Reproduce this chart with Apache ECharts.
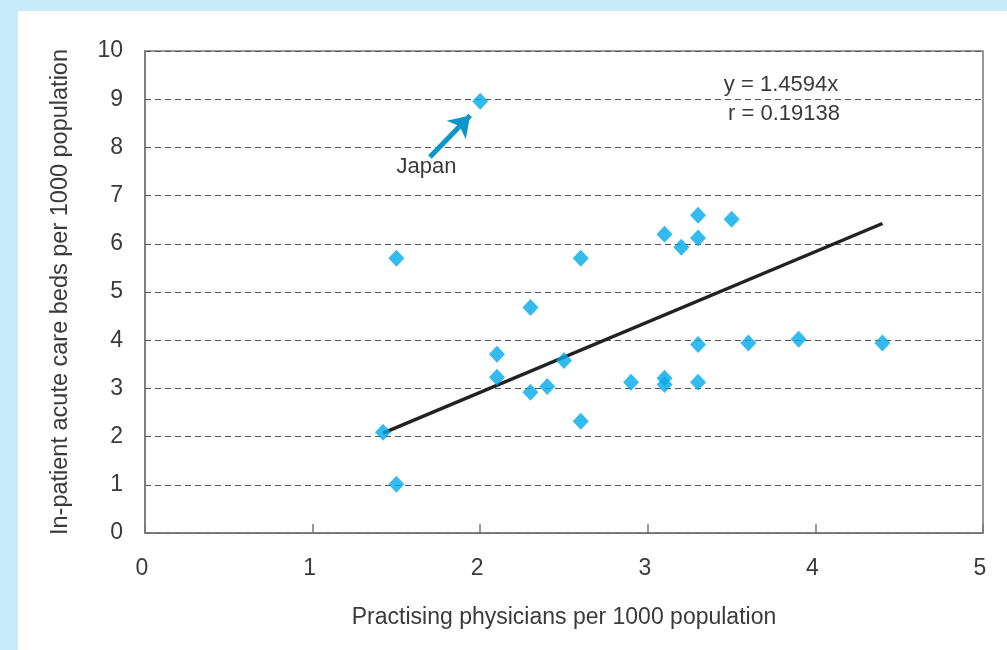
<!DOCTYPE html>
<html><head><meta charset="utf-8">
<script src="https://cdn.jsdelivr.net/npm/echarts@6/dist/echarts.min.js"></script>
<style>html,body{margin:0;padding:0;background:#c9eaf8;}#c{width:1007px;height:650px;}</style>
</head><body><div id="c"></div>
<script>
const physicians = [1.42,1.5,1.5,2.0,2.1,2.1,2.3,2.3,2.4,2.5,2.6,2.6,2.9,3.1,3.1,3.1,3.2,3.3,3.3,3.3,3.3,3.5,3.6,3.9,4.4];
const beds =       [2.09,1.01,5.7,8.96,3.71,3.23,4.68,2.92,3.04,3.58,5.7,2.32,3.13,6.2,3.21,3.08,5.93,6.59,6.12,3.91,3.13,6.51,3.94,4.02,3.94];
const slope = 1.4594;
const trendX = [1.42, 4.4];
const xTicks = [0,1,2,3,4,5];
const yTicks = [0,1,2,3,4,5,6,7,8,9,10];
const eqText = 'y = 1.4594x';
const rText = 'r = 0.19138';
const japan = {label:'Japan', from:[1.7,7.8], to:[1.94,8.66], labelAt:[1.68,7.6]};

const FONT = '"Liberation Sans", Arial, sans-serif';
const TXT = '#3a3a3a';
const chart = echarts.init(document.getElementById('c'));
chart.setOption({
  backgroundColor: 'transparent',
  animation: false,
  grid: {left:145, right:24, top:51, bottom:117, show:true, borderColor:'#777', borderWidth:1.5, backgroundColor:'transparent'},
  xAxis: {
    type:'value', min:0, max:5, interval:1,
    name:'Practising physicians per 1000 population', nameLocation:'middle', nameGap:73,
    nameTextStyle:{fontFamily:FONT, fontSize:23, color:TXT},
    axisLine:{lineStyle:{color:'#777', width:1.5}},
    axisTick:{show:true, inside:true, length:9, lineStyle:{color:'#777', width:1.5}},
    axisLabel:{fontFamily:FONT, fontSize:23, color:TXT, margin:24, padding:[0,6,0,0]},
    splitLine:{show:false}
  },
  yAxis: {
    type:'value', min:0, max:10, interval:1,
    name:'In-patient acute care beds per 1000 population', nameLocation:'middle', nameGap:72,
    nameTextStyle:{fontFamily:FONT, fontSize:23.5, color:TXT},
    axisLine:{show:true, lineStyle:{color:'#777', width:1.5}},
    axisTick:{show:false},
    axisLabel:{fontFamily:FONT, fontSize:23, color:TXT, margin:22},
    splitLine:{show:true, lineStyle:{color:'#555', type:[6,4], width:1}}
  },
  series: [
    {
      type:'line', data: trendX.map(x=>[x, slope*x]), symbol:'none',
      lineStyle:{color:'#222', width:3.5}, z:3,
      markLine:{
        silent:true, symbol:['none','arrow'], symbolSize:[20,20],
        label:{show:false},
        lineStyle:{color:'#0b95c9', width:5, type:'solid'},
        data:[[{coord:japan.from},{coord:japan.to}]]
      }
    },
    {
      type:'scatter', data: physicians.map((x,i)=>[x, beds[i]]),
      symbol:'diamond', symbolSize:[16,17],
      itemStyle:{color:'#00a9ea'}, z:4
    }
  ]
});
const p1 = chart.convertToPixel({gridIndex:0}, japan.labelAt);
chart.setOption({graphic:[
  {type:'rect', shape:{x:18,y:11,width:989,height:639}, style:{fill:'#ffffff'}, z:-10},
  {type:'text', x:p1[0], y:p1[1], style:{text:japan.label, font:'22px '+FONT, fill:TXT, textAlign:'center', textVerticalAlign:'middle'}, z:10},
  {type:'text', x:781, y:85, style:{text:eqText, font:'22px '+FONT, fill:TXT, textAlign:'center', textVerticalAlign:'middle'}, z:10},
  {type:'text', x:784, y:114, style:{text:rText, font:'22px '+FONT, fill:TXT, textAlign:'center', textVerticalAlign:'middle'}, z:10}
]});
</script></body></html>
